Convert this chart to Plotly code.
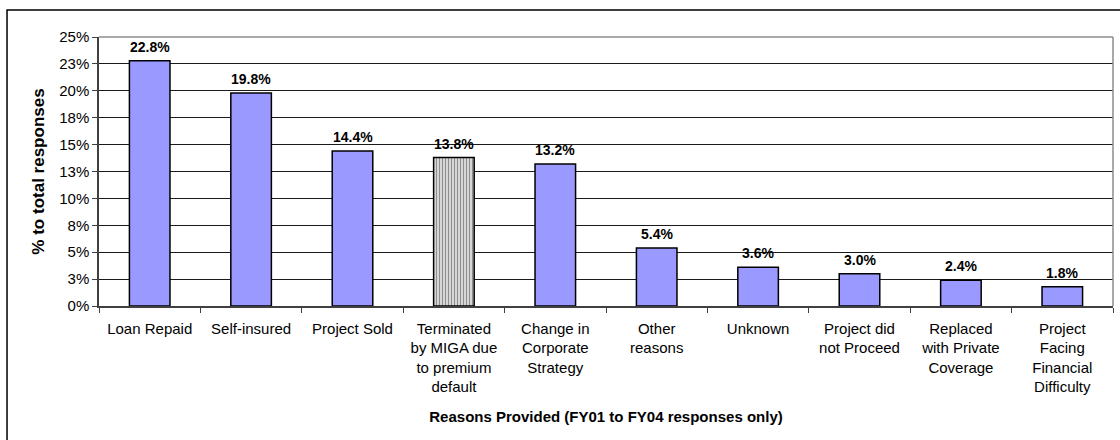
import plotly.graph_objects as go

reasons = [
    "Loan Repaid",
    "Self-insured",
    "Project Sold",
    "Terminated<br>by MIGA due<br>to premium<br>default",
    "Change in<br>Corporate<br>Strategy",
    "Other<br>reasons",
    "Unknown",
    "Project did<br>not Proceed",
    "Replaced<br>with Private<br>Coverage",
    "Project<br>Facing<br>Financial<br>Difficulty",
]
share_pct = [22.8, 19.8, 14.4, 13.8, 13.2, 5.4, 3.6, 3.0, 2.4, 1.8]
highlighted = "Terminated<br>by MIGA due<br>to premium<br>default"

y_tick_vals = [0, 2.5, 5, 7.5, 10, 12.5, 15, 17.5, 20, 22.5, 25]
y_tick_text = ["0%", "3%", "5%", "8%", "10%", "13%", "15%", "18%", "20%", "23%", "25%"]

FONT = "Arial, Liberation Sans, sans-serif"

bar_colors = ["#D6D6D6" if r == highlighted else "#9999FF" for r in reasons]
patterns = ["|" if r == highlighted else "" for r in reasons]

fig = go.Figure()

fig.add_trace(go.Bar(
    x=reasons,
    y=share_pct,
    width=0.4,
    marker=dict(
        color=bar_colors,
        line=dict(color="black", width=1.5),
        pattern=dict(shape=patterns, fillmode="overlay", fgcolor="#9A9A9A",
                     size=3, solidity=0.35),
    ),
    hovertemplate="%{y:.1f}%<extra></extra>",
))

# value labels above the bars
for r, v in zip(reasons, share_pct):
    fig.add_annotation(
        x=r, y=v, xref="x", yref="y",
        text=f"{v:.1f}%",
        showarrow=False,
        yanchor="bottom",
        yshift=4,
        font=dict(family=FONT, size=14, color="black", weight="bold"),
    )

# plot-area border (top / right), gray like Excel
fig.add_shape(type="line", xref="paper", yref="paper", x0=0, x1=1, y0=1, y1=1,
              line=dict(color="#8C8C8C", width=1.5))
fig.add_shape(type="line", xref="paper", yref="paper", x0=1, x1=1, y0=0, y1=1,
              line=dict(color="#8C8C8C", width=1.5))

# outer chart frame (cropped at right/bottom)
fig.add_shape(type="rect", xref="paper", yref="paper",
              x0=-0.0907, x1=1.03, y0=-0.7, y1=1.1004,
              line=dict(color="black", width=1.5))

fig.update_layout(
    width=1120,
    height=440,
    margin=dict(l=99, r=7, t=37, b=134),
    plot_bgcolor="white",
    paper_bgcolor="white",
    showlegend=False,
    font=dict(family=FONT, size=15, color="black"),
    bargap=0.6,
)

fig.update_xaxes(
    type="category",
    showline=True,
    linecolor="#404040",
    linewidth=1.5,
    ticks="outside",
    tickson="boundaries",
    ticklen=5,
    tickcolor="#404040",
    showgrid=False,
    ticklabelstandoff=8,
    tickfont=dict(family=FONT, size=15, color="black"),
    title=dict(text="Reasons Provided (FY01 to FY04 responses only)",
               font=dict(family=FONT, size=15, color="black", weight="bold"),
               standoff=17),
)

fig.update_yaxes(
    range=[0, 25],
    tickvals=y_tick_vals,
    ticktext=y_tick_text,
    showline=True,
    linecolor="#404040",
    linewidth=1.5,
    ticks="outside",
    ticklen=5,
    tickcolor="#404040",
    showgrid=True,
    gridcolor="#1A1A1A",
    gridwidth=1,
    zeroline=False,
    tickfont=dict(family=FONT, size=15, color="black"),
    title=dict(text="% to total responses",
               font=dict(family=FONT, size=17, color="black", weight="bold"),
               standoff=10),
)

fig.write_html("out.html", config={"displayModeBar": False},
               post_script="document.body.style.margin='0';")
